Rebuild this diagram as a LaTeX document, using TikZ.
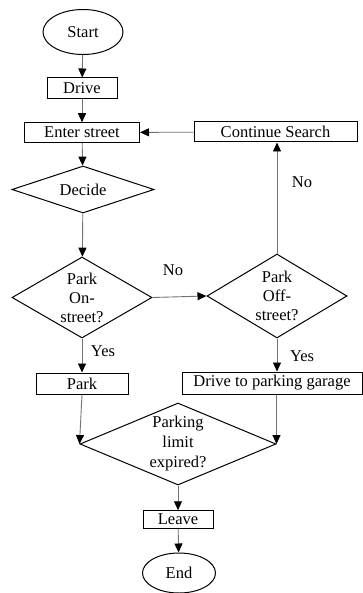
\documentclass[tikz,border=0pt]{standalone}
\usepackage{fontspec}
\setmainfont{Liberation Serif}
\usetikzlibrary{shapes.geometric,arrows.meta}
\begin{document}
\begin{tikzpicture}[x=1pt,y=-1pt,
  every node/.style={font=\fontsize{16.5}{19}\selectfont, inner sep=0pt},
  terminal/.style={ellipse, draw=black, line width=1pt},
  procbox/.style={rectangle, draw=black, line width=1pt},
  decision/.style={diamond, draw=black, line width=1pt},
  flow/.style={draw=black!55, line width=0.9pt,
    -{Triangle[length=9pt,width=8pt,color=black]}},
  lbl/.style={font=\fontsize{16.5}{19}\selectfont}]
\useasboundingbox (0,0) rectangle (363,593);

% processes and terminals
\node[terminal, minimum width=80pt, minimum height=45pt] (start) at (83,32) {Start};
\node[procbox, minimum width=70pt, minimum height=21pt] (drive) at (82,88.5) {Drive};
\node[procbox, minimum width=115pt, minimum height=19.5pt] (enter) at (82,132.5) {Enter street};
\node[procbox, minimum width=163pt, minimum height=20pt] (cont) at (275.5,132) {Continue Search};
\node[decision, minimum width=142pt, minimum height=47pt] (decide) at (83,189.5) {};
\node at (decide) {Decide};

% parking choices
\node[decision, minimum width=140pt, minimum height=81pt] (on) at (82,297.5) {};
\node[align=center] at (on) {Park\\On-\\street?};
\node[decision, minimum width=140pt, minimum height=84pt] (off) at (277,296) {};
\node[align=center] at (off) {Park\\Off-\\street?};

\node[procbox, minimum width=92pt, minimum height=21pt] (park) at (82,383.5) {Park};
\node[procbox, minimum width=180pt, minimum height=22pt] (garage) at (272,383) {Drive to parking garage};

\node[decision, minimum width=196pt, minimum height=82pt] (limit) at (178,444) {};
\node[align=center, font=\fontsize{16.5}{20}\selectfont] at (limit) {Parking\\limit\\expired?};

\node[procbox, minimum width=70pt, minimum height=17.5pt] (leave) at (178,519.5) {Leave};
\node[terminal, minimum width=73pt, minimum height=40pt] (end) at (179,573) {End};

% branch labels
\node[lbl] (noa) at (173,270) {No};
\node[lbl] (nob) at (302,182) {No};
\node[lbl] (yesa) at (103,351) {Yes};
\node[lbl] (yesb) at (302,356) {Yes};

% connectors
\draw[flow] (start) -- (drive);
\draw[flow] (drive) -- (enter);
\draw[flow] (cont) -- (enter);
\draw[flow] (enter) -- (decide);
\draw[flow] (decide) -- (on);
\draw[flow] (on.east) -- (off.west);
\draw[flow] (off.north) -- (cont.south -| off.north);
\draw[flow] (on.south) -- (park.north -| on.south);
\draw[flow] (off.south) -- (garage.north -| off.south);
\draw[flow] (park.south) -- (limit.west);
\draw[flow] (garage.south -| limit.east) -- (limit.east);
\draw[flow] (limit) -- (leave);
\draw[flow] (leave) -- (end);
\end{tikzpicture}
\end{document}
